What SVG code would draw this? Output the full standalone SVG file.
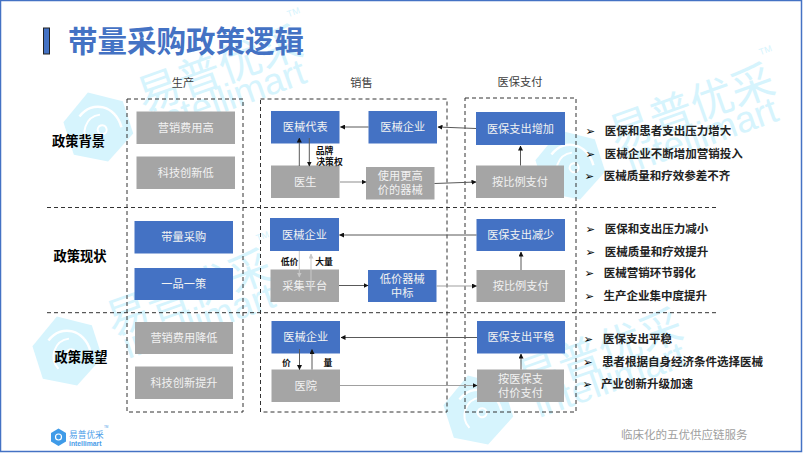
<svg xmlns="http://www.w3.org/2000/svg" width="803" height="453" viewBox="0 0 803 453">
<style>
text{font-family:"Noto Sans CJK SC","Noto Sans",sans-serif}
.b{fill:#4472c4}.g{fill:#a5a5a5}
.nt{fill:#f2f2f2;font-size:11.2px;text-anchor:middle}
.h{fill:#404040;font-size:11.2px;text-anchor:middle}
.r{fill:#000;font-size:13.3px;font-weight:700;text-anchor:middle}
.p{fill:#222;font-size:11.5px;font-weight:700}
.m{fill:#000;font-size:11.5px;font-family:"DejaVu Sans",sans-serif}
.s{fill:#111;font-size:8.8px;font-weight:700;text-anchor:middle}
.d{fill:none;stroke:#333;stroke-width:1;stroke-dasharray:4 3}
.c{fill:none;stroke:#595959;stroke-width:1;marker-end:url(#a)}
.k{fill:none;stroke:#a0a0a0;stroke-width:1.2;marker-end:url(#a)}
.l{fill:none;stroke:#c8c8c8;stroke-width:1;marker-end:url(#al)}
.w1{font-size:43px;fill:#d6f4fd}
.w2{font-size:37px;fill:#d6f4fd;font-family:"Liberation Sans",sans-serif}
.w3{font-size:9px;fill:#d6f4fd;font-family:"Liberation Sans",sans-serif}
</style>
<defs>
<marker id="a" markerWidth="5" markerHeight="5" refX="4.5" refY="2.5" orient="auto" markerUnits="userSpaceOnUse"><path d="M0 0L5 2.5L0 5Z" fill="#111"/></marker>
<marker id="al" markerWidth="5" markerHeight="5" refX="4.5" refY="2.5" orient="auto" markerUnits="userSpaceOnUse"><path d="M0 0L5 2.5L0 5Z" fill="#c8c8c8"/></marker>
<g id="wm">
<path d="M2-36L32-16L31 18L-2 36L-32 18L-31-16Z" fill="#d6f4fd"/>
<path d="M-14-16C4-28 24-14 22 8" fill="none" stroke="#fff" stroke-width="2.500"/>
<path d="M-14 14C-20 0-8-14 6-11" fill="none" stroke="#fff" stroke-width="2"/>
<circle cx="3" cy="4" r="4.500" fill="none" stroke="#fff" stroke-width="2"/>
<text class="w1" x="48" y="1">易普优采</text>
<text class="w2" x="55" y="28">intellimart</text>
<text class="w3" x="216" y="-40">TM</text>
</g>
</defs>
<rect width="803" height="453" fill="#fff"/>
<g id="watermarks">
<use href="#wm" transform="translate(98 127) rotate(-19.500)"/>
<use href="#wm" transform="translate(570 165) rotate(-19.500)"/>
<use href="#wm" transform="translate(67 351) rotate(-19.500)"/>
<use href="#wm" transform="translate(478 410) rotate(-19.500)"/>
</g>
<rect id="frame" x="0.5" y="0.5" width="801" height="451" fill="none" stroke="#4472c4" stroke-width="1.5"/>
<g id="title">
<rect x="43.5" y="28" width="6" height="26" fill="#4472c4" stroke="#222" stroke-width="1"/>
<text x="68" y="51.500" style="font-size:29.500px;font-weight:700;fill:#4472c4">带量采购政策逻辑</text>
</g>
<g id="headers">
<text class="h" x="183" y="87">生产</text>
<text class="h" x="361.500" y="87">销售</text>
<text class="h" x="520" y="86">医保支付</text>
<text class="r" x="78.500" y="146">政策背景</text>
<text class="r" x="80" y="260.500">政策现状</text>
<text class="r" x="81" y="362">政策展望</text>
</g>
<g id="frames">
<rect class="d" x="127" y="99" width="116" height="313"/>
<rect class="d" x="260.500" y="99" width="186.500" height="313"/>
<rect class="d" x="465" y="98" width="111" height="314"/>
<path class="d" d="M47 207.500H716M47 312.700H717"/>
</g>
<g id="n1"><rect class="g" x="136.500" y="111.500" width="98.500" height="32.500"/><text class="nt" x="185.700" y="131.800">营销费用高</text></g>
<g id="n2"><rect class="g" x="136.500" y="156.500" width="98.500" height="32.500"/><text class="nt" x="185.700" y="176.800">科技创新低</text></g>
<g id="n3"><rect class="b" x="134.500" y="221" width="98.500" height="32.500"/><text class="nt" x="183.700" y="241.300">带量采购</text></g>
<g id="n4"><rect class="b" x="134.500" y="268" width="98.500" height="32"/><text class="nt" x="183.700" y="288">一品一策</text></g>
<g id="n5"><rect class="g" x="135" y="322" width="98" height="32"/><text class="nt" x="184" y="342">营销费用降低</text></g>
<g id="n6"><rect class="g" x="135" y="366.500" width="98" height="32.500"/><text class="nt" x="184" y="386.800">科技创新提升</text></g>
<g id="n7"><rect class="b" x="271" y="111" width="68.500" height="32.500"/><text class="nt" x="305.200" y="131.300">医械代表</text></g>
<g id="n8"><rect class="b" x="368.500" y="111" width="68.500" height="32.500"/><text class="nt" x="402.700" y="131.300">医械企业</text></g>
<g id="n9"><rect class="g" x="271" y="165.500" width="68.500" height="32.500"/><text class="nt" x="305.200" y="185.800">医生</text></g>
<g id="n10"><rect class="g" x="366" y="167" width="68.500" height="32.500"/><text class="nt" x="400.200" y="180"><tspan x="400.200">使用更高</tspan><tspan x="400.200" dy="14">价的器械</tspan></text></g>
<g id="n11"><rect class="b" x="476" y="112" width="89" height="33"/><text class="nt" x="520.500" y="132.500">医保支出增加</text></g>
<g id="n12"><rect class="g" x="476" y="165.500" width="88" height="32.500"/><text class="nt" x="520" y="185.800">按比例支付</text></g>
<g id="n13"><rect class="b" x="270" y="218" width="69" height="33"/><text class="nt" x="304.500" y="238.500">医械企业</text></g>
<g id="n14"><rect class="g" x="270.500" y="269.500" width="68.500" height="32.500"/><text class="nt" x="304.700" y="289.800">采集平台</text></g>
<g id="n15"><rect class="b" x="368" y="270" width="68.500" height="32"/><text class="nt" x="402.200" y="282.500"><tspan x="402.200">低价器械</tspan><tspan x="402.200" dy="14">中标</tspan></text></g>
<g id="n16"><rect class="b" x="476.500" y="219" width="88.500" height="32"/><text class="nt" x="520.700" y="239">医保支出减少</text></g>
<g id="n17"><rect class="g" x="476.500" y="270" width="88.500" height="32"/><text class="nt" x="520.700" y="290">按比例支付</text></g>
<g id="n18"><rect class="b" x="271.500" y="321" width="68.500" height="32.500"/><text class="nt" x="305.700" y="341.300">医械企业</text></g>
<g id="n19"><rect class="g" x="271.500" y="369.500" width="68.500" height="32.500"/><text class="nt" x="305.700" y="389.800">医院</text></g>
<g id="n20"><rect class="b" x="477" y="321" width="88" height="32.500"/><text class="nt" x="521" y="341.300">医保支出平稳</text></g>
<g id="n21"><rect class="g" x="477" y="369.500" width="87" height="32.500"/><text class="nt" x="520.500" y="382.500"><tspan x="520.500">按医保支</tspan><tspan x="520.500" dy="14">付价支付</tspan></text></g>
<g id="connectors">
<path class="c" d="M368.500 127H340.500"/>
<path class="c" d="M476 128.500L438 127"/>
<path class="c" d="M299.300 166V138"/>
<path class="c" d="M309.300 138V166"/>
<path class="k" d="M340 182H366"/>
<path class="c" d="M434.500 183.500L476 182"/>
<path class="c" d="M520.500 165.500V146"/>
<path class="c" d="M476.500 235H339.500"/>
<path class="l" d="M299.300 251V277"/>
<path class="l" d="M311 291V254"/>
<path class="c" d="M339 285.500H368"/>
<path class="k" d="M436.500 286H476.500"/>
<path class="c" d="M521 270V252"/>
<path class="c" d="M477 337.500H341"/>
<path class="c" d="M299.500 349V369.500"/>
<path class="c" d="M312 369.500V349.500"/>
<path class="k" d="M340 385.500H477"/>
<path class="c" d="M521 369.500V354"/>
</g>
<g id="connector-labels">
<text class="s" x="324.500" y="153.500"><tspan x="324.500">品牌</tspan><tspan x="329.500" dy="11">决策权</tspan></text>
<text class="s" x="289.500" y="264.500">低价</text>
<text class="s" x="324" y="264.500">大量</text>
<text class="s" x="286.500" y="365.500">价</text>
<text class="s" x="328" y="365.500">量</text>
</g>
<g id="bullets">
<text class="m" x="585.500" y="135">➢</text><text class="p" x="604.700" y="135">医保和患者支出压力增大</text>
<text class="m" x="585.500" y="157.500">➢</text><text class="p" x="604.700" y="157.500">医械企业不断增加营销投入</text>
<text class="m" x="584.500" y="179.500">➢</text><text class="p" x="603.700" y="179.500">医械质量和疗效参差不齐</text>
<text class="m" x="585.500" y="233">➢</text><text class="p" x="604.700" y="233">医保和支出压力减小</text>
<text class="m" x="585.500" y="255.700">➢</text><text class="p" x="604.700" y="255.700">医械质量和疗效提升</text>
<text class="m" x="584.500" y="277">➢</text><text class="p" x="603.700" y="277">医械营销环节弱化</text>
<text class="m" x="584.500" y="299.500">➢</text><text class="p" x="603.500" y="299.500">生产企业集中度提升</text>
<text class="m" x="583.500" y="343">➢</text><text class="p" x="603" y="343">医保支出平稳</text>
<text class="m" x="583" y="365.500">➢</text><text class="p" x="602" y="365.500">患者根据自身经济条件选择医械</text>
<text class="m" x="582.500" y="387.500">➢</text><text class="p" x="601" y="387.500">产业创新升级加速</text>
</g>
<g id="footer">
<text x="621" y="438.500" style="font-size:11.500px;fill:#a0a0a0">临床化的五优供应链服务</text>
<path d="M58.500 428.500L66 433V441.500L58.500 446L51 441.500V433Z" fill="#3f9be8"/>
<circle cx="58.500" cy="437" r="3" fill="none" stroke="#fff" stroke-width="1.200"/>
<text x="69" y="437.500" style="font-size:8.700px;fill:#4a9ce8">易普优采</text>
<text x="69" y="446" style="font-size:6.800px;font-weight:700;fill:#4a9ce8;font-family:'Liberation Sans',sans-serif">intellimart</text>
<text x="104" y="428" style="font-size:3px;fill:#4a9ce8;font-family:'Liberation Sans',sans-serif">TM</text>
</g>
</svg>
